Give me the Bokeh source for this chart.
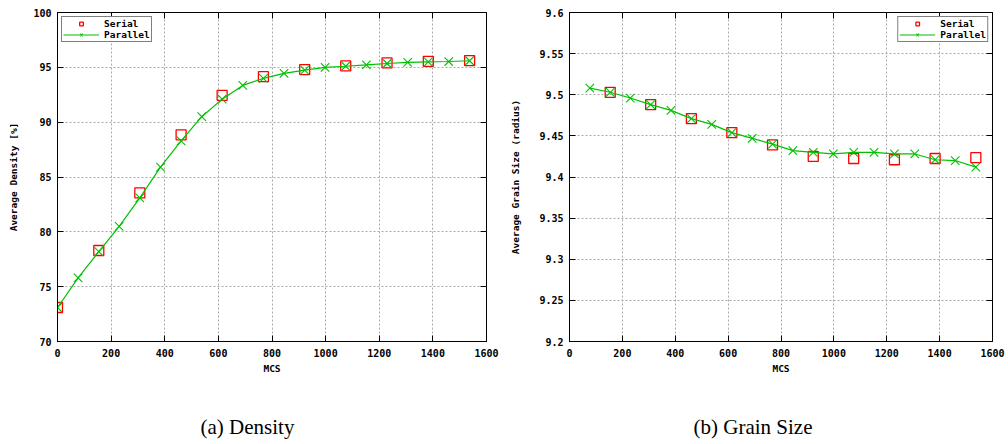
from bokeh.plotting import figure
from bokeh.layouts import row
from bokeh.models import (Range1d, FixedTicker, Legend, LegendItem, LinearAxis,
                          Title, CustomJSTickFormatter)
from bokeh.embed import file_html
from bokeh.resources import INLINE

# ---------------- data ----------------
serial_mcs = [0, 154, 307, 461, 614, 768, 922, 1075, 1229, 1383, 1537]
serial_density = [73.1, 78.3, 83.55, 88.85, 92.45, 94.15, 94.8, 95.13, 95.4, 95.55, 95.62]
parallel_mcs = [0, 77, 154, 230, 307, 384, 461, 538, 614, 691, 768, 845, 922, 998,
                1075, 1152, 1229, 1306, 1383, 1459, 1537]
parallel_density = [73.1, 75.8, 78.2, 80.5, 83.1, 85.9, 88.3, 90.5, 92.1, 93.35, 94.0,
                    94.45, 94.75, 95.0, 95.1, 95.23, 95.35, 95.45, 95.5, 95.53, 95.6]

serial_mcs_b = [154, 307, 461, 614, 768, 922, 1075, 1229, 1383, 1537]
serial_grain = [9.503, 9.488, 9.471, 9.454, 9.439, 9.425, 9.4225, 9.421, 9.4225, 9.4235]
parallel_mcs_b = [77, 154, 230, 307, 384, 461, 538, 614, 691, 768, 845, 922, 998,
                  1075, 1152, 1229, 1306, 1383, 1459, 1537]
parallel_grain = [9.508, 9.503, 9.496, 9.488, 9.481, 9.471, 9.464, 9.454, 9.447, 9.440,
                  9.432, 9.430, 9.428, 9.430, 9.430, 9.428, 9.428, 9.421, 9.420, 9.412]

x_ticks = [0, 200, 400, 600, 800, 1000, 1200, 1400, 1600]
density_ticks = [70, 75, 80, 85, 90, 95, 100]
grain_ticks = [9.2, 9.25, 9.3, 9.35, 9.4, 9.45, 9.5, 9.55, 9.6]

labels = ["Serial", "Parallel"]
captions = ["(a) Density", "(b) Grain Size"]

MONO = "DejaVu Sans Mono"
RED = "#ff0000"
GREEN = "#00c000"

fmt = CustomJSTickFormatter(code="return String(+tick.toFixed(2));")


def make(xs_s, ys_s, xs_p, ys_p, yr, yticks, ylabel, caption, legend_loc,
         bl, br, fw, ylab_standoff, cap_offset):
    p = figure(frame_width=fw, frame_height=329,
               x_range=Range1d(0, 1600), y_range=Range1d(*yr),
               output_backend="svg", toolbar_location=None,
               min_border_left=bl, min_border_right=br,
               min_border_top=12, min_border_bottom=102,
               background_fill_color="white", border_fill_color="white")
    p.outline_line_color = "black"
    p.outline_line_width = 1

    p.xaxis.ticker = FixedTicker(ticks=x_ticks)
    p.yaxis.ticker = FixedTicker(ticks=yticks)
    p.yaxis.formatter = fmt
    p.xaxis.axis_label = "MCS"
    p.yaxis.axis_label = ylabel
    for ax in (p.xaxis[0], p.yaxis[0]):
        ax.major_tick_in = 6
        ax.major_tick_out = 0
        ax.minor_tick_line_color = None
        ax.axis_line_color = "black"
        ax.major_tick_line_color = "black"
        ax.major_label_text_font = MONO
        ax.major_label_text_font_style = "bold"
        ax.major_label_text_font_size = "10px"
        ax.major_label_text_color = "black"
        ax.axis_label_text_font = MONO
        ax.axis_label_text_font_style = "bold"
        ax.axis_label_text_font_size = "9.5px"
        ax.axis_label_text_color = "black"
    p.xaxis.major_label_standoff = 7
    p.xaxis.axis_label_standoff = 3
    p.yaxis.major_label_standoff = 6
    p.yaxis.axis_label_standoff = ylab_standoff

    # mirrored ticks (right / top), labels not drawn
    for loc, tk in (("right", yticks), ("above", x_ticks)):
        ax = LinearAxis(ticker=FixedTicker(ticks=tk), major_tick_in=6, major_tick_out=0,
                        minor_tick_line_color=None, major_label_text_font_size="1px",
                        major_label_text_color=None,
                        major_label_standoff=0, axis_line_color=None,
                        major_tick_line_color="black")
        p.add_layout(ax, loc)

    for g in (p.xgrid[0], p.ygrid[0]):
        g.grid_line_color = "#a8a8a8"
        g.grid_line_dash = "2 2"
        g.grid_line_width = 1

    r_s = p.scatter(xs_s, ys_s, marker="square", size=10, fill_color=None,
                    line_color=RED, line_width=1.3)
    r_pl = p.line(xs_p, ys_p, line_color=GREEN, line_width=1.2)
    r_pm = p.scatter(xs_p, ys_p, marker="x", size=12, line_color=GREEN, line_width=1.1)

    leg = Legend(items=[LegendItem(label=labels[0], renderers=[r_s]),
                        LegendItem(label=labels[1], renderers=[r_pl, r_pm])],
                 location=legend_loc, margin=4, padding=1, spacing=0,
                 glyph_width=36, glyph_height=9, label_height=9,
                 label_standoff=5,
                 label_text_font=MONO, label_text_font_style="bold",
                 label_text_font_size="9.5px", label_text_color="black",
                 label_text_line_height=0.9,
                 border_line_color="black", border_line_width=1,
                 background_fill_color="white", background_fill_alpha=1)
    p.add_layout(leg)

    t = Title(text=caption, align="left", text_font="Liberation Serif",
              text_font_size="21px", text_font_style="normal", text_color="black",
              standoff=72, offset=cap_offset)
    p.add_layout(t, "below")
    return p


p1 = make(serial_mcs, serial_density, parallel_mcs, parallel_density, (70, 100),
          density_ticks, "Average Density [%]", captions[0], "top_left",
          57, 18, 429, 11, 143)
p2 = make(serial_mcs_b, serial_grain, parallel_mcs_b, parallel_grain, (9.2, 9.6),
          grain_ticks, "Average Grain Size (radius)", captions[1], "top_right",
          65, 14, 423, 15, 124)

layout = row(p1, p2)
open("out.html", "w").write(file_html(layout, INLINE))
